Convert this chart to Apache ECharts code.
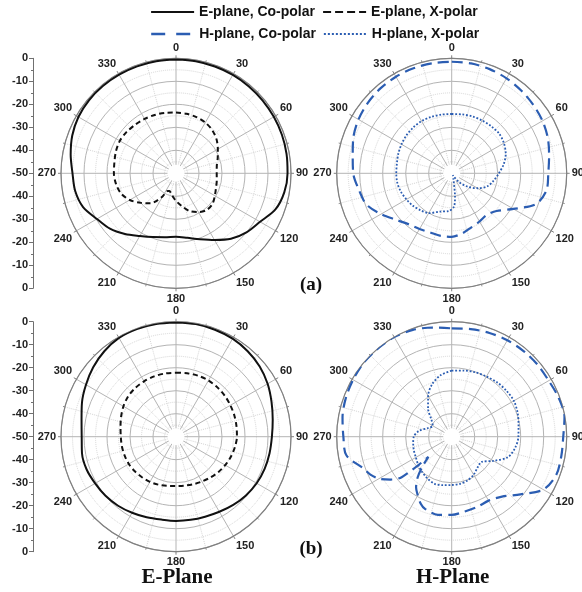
<!DOCTYPE html>
<html>
<head>
<meta charset="utf-8">
<script src="https://cdn.jsdelivr.net/npm/echarts@6/dist/echarts.min.js"></script>
<style>
  html, body { margin: 0; padding: 0; background: #fff; }
  #chart { width: 582px; height: 592px; }
</style>
</head>
<body>
<div id="chart"></div>
<script>
// Radiation patterns (dB) versus angle (degrees), two antenna prototypes (a) and (b)
const seriesNames = ['E-plane, Co-polar', 'E-plane, X-polar', 'H-plane, Co-polar', 'H-plane, X-polar'];
const angleTickLabels = ['0', '30', '60', '90', '120', '150', '180', '210', '240', '270', '300', '330'];
const dbTickLabels = ['0', '-10', '-20', '-30', '-40', '-50', '-40', '-30', '-20', '-10', '0'];
const panelLabels = ['(a)', '(b)'];
const planeTitles = ['E-Plane', 'H-Plane'];

// shared 10-degree sampling
const angles10 = [0, 10, 20, 30, 40, 50, 60, 70, 80, 90, 100, 110, 120, 130, 140, 150, 160, 170, 180,
  190, 200, 210, 220, 230, 240, 250, 260, 270, 280, 290, 300, 310, 320, 330, 340, 350, 360];

// (a) E-plane
const eCoA = [-0.5, -0.5, -0.6, -0.6, -0.7, -0.8, -0.9, -1.0, -1.2, -1.5, -2.2, -4.0, -7.8, -10.0, -12.8, -16.5, -19.5, -21.5, -22.4,
  -21.8, -20.5, -18.5, -15.5, -12.5, -10.3, -7.0, -5.5, -5.0, -3.5, -2.0, -1.0, -0.6, -0.5, -0.5, -0.5, -0.5, -0.5];
const eXAngA = [0, 10, 20, 30, 40, 50, 60, 70, 80, 90, 100, 110, 120, 130, 140, 150, 160, 170, 180, 185, 190, 195, 200, 205,
  210, 215, 220, 230, 240, 250, 260, 270, 280, 290, 300, 310, 320, 330, 340, 350, 360];
const eXA = [-23.6, -23.7, -24.0, -24.5, -25.5, -27.0, -29.0, -30.7, -32.0, -32.3, -32.0, -31.5, -30.5, -29.3, -29.2, -30.5, -32.5, -35.5, -38.0, -39.2, -40.3, -41.2, -41.8, -41.5,
  -38.5, -35.5, -33.0, -30.0, -26.8, -24.5, -23.5, -23.0, -22.8, -22.2, -21.8, -22.0, -22.4, -22.7, -23.0, -23.3, -23.6];

// (a) H-plane
const hCoA = [-1.5, -1.5, -1.8, -2.3, -3.0, -3.7, -4.4, -5.5, -7.0, -8.0, -8.1, -11.0, -19.0, -24.5, -26.3, -25.8, -25.0, -23.5, -22.4,
  -22.4, -22.6, -22.0, -21.0, -18.5, -14.5, -10.5, -9.0, -7.2, -6.3, -4.5, -3.2, -2.4, -1.8, -1.5, -1.4, -1.4, -1.5];
const hXAngA = [0, 10, 20, 30, 40, 50, 60, 70, 80, 90, 100, 110, 120, 130, 140, 150, 162, 172, 176, 185, 197, 210,
  220, 230, 240, 250, 260, 270, 280, 290, 300, 310, 320, 330, 340, 350, 360];
const hXA = [-24.2, -24.0, -23.7, -23.5, -23.3, -23.1, -23.8, -25.0, -27.0, -29.5, -31.5, -33.5, -37.0, -41.0, -45.0, -49.0, -47.7, -39.7, -35.5, -33.5, -32.6, -30.0,
  -29.0, -28.0, -27.3, -26.5, -26.0, -25.9, -25.8, -25.3, -24.8, -24.3, -24.0, -23.8, -23.9, -24.1, -24.2];

// (b) E-plane
const eCoB = [-0.3, -0.3, -0.5, -0.8, -1.5, -2.5, -4.0, -5.8, -7.3, -8.3, -8.7, -9.0, -9.5, -10.3, -11.3, -12.3, -13.0, -13.3, -13.4,
  -13.4, -12.7, -11.8, -10.8, -10.0, -9.4, -8.6, -8.5, -9.0, -8.3, -6.5, -4.8, -3.0, -1.5, -0.4, -0.2, -0.2, -0.3];
const eXB = [-22.2, -22.0, -21.8, -21.8, -22.0, -22.3, -22.7, -23.0, -23.3, -23.5, -24.0, -24.6, -25.3, -26.0, -26.8, -27.5, -28.0, -28.4, -28.6,
  -28.3, -27.8, -27.3, -27.0, -26.6, -26.3, -26.2, -26.1, -26.0, -25.5, -24.6, -23.6, -22.8, -22.4, -22.2, -22.1, -22.1, -22.2];

// (b) H-plane
const hCoAngB = [0, 10, 20, 30, 40, 50, 60, 70, 80, 90, 100, 110, 120, 130, 140, 150, 160, 170, 180, 190, 200, 205,
  211, 215, 220, 225, 229, 231, 235, 240, 245, 250, 260, 270, 280, 290, 300, 310, 320, 330, 340, 350, 360];
const hCoB = [-2.9, -2.5, -2.0, -1.6, -1.4, -1.3, -1.3, -0.5, -0.2, -1.5, -1.6, -1.6, -4.0, -11.0, -16.0, -17.9, -17.5, -17.0, -16.0, -15.5, -16.5, -18.0,
  -21.0, -23.0, -27.0, -32.5, -36.6, -22.0, -17.5, -13.5, -11.0, -9.3, -3.5, -2.9, -1.8, -1.0, -0.5, 0.0, 0.0, 0.0, -0.6, -1.8, -2.9];
const hXB = [-21.3, -20.8, -20.2, -19.8, -19.2, -18.9, -18.8, -19.5, -20.5, -21.0, -22.0, -24.0, -29.0, -33.0, -32.5, -30.9, -29.8, -29.2, -29.0,
  -28.6, -28.2, -29.0, -30.0, -31.0, -32.0, -32.5, -33.0, -33.5, -35.5, -39.0, -40.5, -38.5, -34.0, -29.5, -25.5, -22.8, -21.3];

// panel geometry
const R = 115;
const colX = [176, 451.7];
const rowY = [173.3, 436.7];
const holeR = 8.5;

const black = '#111';
const blue = '#2b5db2';
const gridMajor = '#b4b4b4';
const gridMinor = '#d6d6d6';
const labelFont = { fontFamily: 'Liberation Sans', fontWeight: 'bold', fontSize: 11, color: '#222' };

const pairs = (angs, vals) => angs.map((a, i) => [vals[i], a]);

const polars = [], angleAxes = [], radiusAxes = [], series = [], graphics = [];
const panels = [];
for (let r = 0; r < 2; r++) for (let c = 0; c < 2; c++) panels.push([colX[c], rowY[r]]);

panels.forEach((p, i) => {
  polars.push({ center: [p[0], p[1]], radius: R });
  angleAxes.push({
    polarIndex: i, type: 'value', min: 0, max: 360, interval: 30, startAngle: 90, clockwise: true,
    axisLine: { lineStyle: { color: '#808080', width: 1.2 } },
    axisTick: { show: true, length: 3, lineStyle: { color: '#808080' } },
    minorTick: { show: true, splitNumber: 2, length: 2, lineStyle: { color: '#909090' } },
    axisLabel: Object.assign({ margin: 5, formatter: v => (v >= 360 ? '' : angleTickLabels[v / 30]) }, labelFont),
    splitLine: { show: true, lineStyle: { color: gridMajor, width: 1 } },
    minorSplitLine: { show: true, lineStyle: { color: gridMinor, width: 1, type: 'dotted' } }
  });
  radiusAxes.push({
    polarIndex: i, type: 'value', min: -50, max: 0, interval: 10,
    axisLine: { show: false }, axisTick: { show: false }, axisLabel: { show: false },
    minorTick: { show: false, splitNumber: 2 },
    splitLine: { show: true, lineStyle: { color: gridMajor, width: 1 } },
    minorSplitLine: { show: true, lineStyle: { color: gridMinor, width: 1, type: 'dotted' } }
  });
  graphics.push({ type: 'circle', shape: { cx: p[0], cy: p[1], r: holeR }, style: { fill: '#fff' }, z: 1, silent: true });
});

function polarLine(name, polarIndex, data, color, width, dash) {
  return {
    name, type: 'line', coordinateSystem: 'polar', polarIndex, data,
    symbol: 'none', smooth: 0.3, z: 3,
    lineStyle: { color, width, type: dash, cap: 'butt' },
    itemStyle: { color }
  };
}

series.push(polarLine(seriesNames[0], 0, pairs(angles10, eCoA), black, 2, 'solid'));
series.push(polarLine(seriesNames[1], 0, pairs(eXAngA, eXA), black, 2, [5, 3.5]));
series.push(polarLine(seriesNames[2], 1, pairs(angles10, hCoA), blue, 2.2, [11, 6]));
series.push(polarLine(seriesNames[3], 1, pairs(hXAngA, hXA), blue, 1.8, [1.8, 1.8]));
series.push(polarLine(seriesNames[0], 2, pairs(angles10, eCoB), black, 2, 'solid'));
series.push(polarLine(seriesNames[1], 2, pairs(angles10, eXB), black, 2, [5, 3.5]));
series.push(polarLine(seriesNames[2], 3, pairs(hCoAngB, hCoB), blue, 2.2, [11, 6]));
series.push(polarLine(seriesNames[3], 3, pairs(angles10, hXB), blue, 1.8, [1.8, 1.8]));

// linear dB scale beside the E-plane panels
const grids = [], xAxes = [], yAxes = [];
rowY.forEach((cy, i) => {
  grids.push({ left: 33, top: cy - R, height: 2 * R, width: 20 });
  xAxes.push({ gridIndex: i, type: 'value', show: false, min: 0, max: 1 });
  yAxes.push({
    gridIndex: i, type: 'value', min: 0, max: 100, interval: 10,
    axisLine: { show: true, lineStyle: { color: '#707070', width: 1 } },
    axisTick: { show: true, inside: false, length: 4, lineStyle: { color: '#707070' } },
    minorTick: { show: true, splitNumber: 2, length: 2, lineStyle: { color: '#707070' } },
    splitLine: { show: false },
    axisLabel: Object.assign({ margin: 5, formatter: v => dbTickLabels[Math.round(v / 10)] }, labelFont)
  });
});

// panel tags and plane captions
panelLabels.forEach((t, i) => {
  graphics.push({ type: 'text', x: 311, y: rowY[i] + 112, z: 5,
    style: { text: t, font: 'bold 19px "Liberation Serif"', fill: '#111', align: 'center', verticalAlign: 'middle', textAlign: 'center', textVerticalAlign: 'middle' } });
});
planeTitles.forEach((t, i) => {
  graphics.push({ type: 'text', x: colX[i] + 1, y: 578, z: 5,
    style: { text: t, font: 'bold 21px "Liberation Serif"', fill: '#111', align: 'center', verticalAlign: 'middle', textAlign: 'center', textVerticalAlign: 'middle' } });
});

const legendText = { fontFamily: 'Liberation Sans', fontWeight: 'bold', fontSize: 14, color: '#111' };
const legendBase = { left: 150, padding: 0, itemGap: 7, itemWidth: 43, itemHeight: 14, textStyle: legendText,
  itemStyle: { opacity: 0, borderWidth: 0 } };
const legends = [
  Object.assign({ top: 5, data: [
    { name: seriesNames[0], lineStyle: { type: 'solid', width: 2.2 } },
    { name: seriesNames[1], lineStyle: { type: [8, 4], width: 2.2 } }] }, legendBase),
  Object.assign({ top: 27, data: [
    { name: seriesNames[2], lineStyle: { type: [14, 11], width: 2.4 } },
    { name: seriesNames[3], lineStyle: { type: [2, 2], width: 2 } }] }, legendBase)
];

const chart = echarts.init(document.getElementById('chart'), null, { renderer: 'canvas' });
chart.setOption({
  animation: false,
  backgroundColor: '#fff',
  legend: legends,
  polar: polars,
  angleAxis: angleAxes,
  radiusAxis: radiusAxes,
  grid: grids,
  xAxis: xAxes,
  yAxis: yAxes,
  series,
  graphic: graphics
});
</script>
</body>
</html>
